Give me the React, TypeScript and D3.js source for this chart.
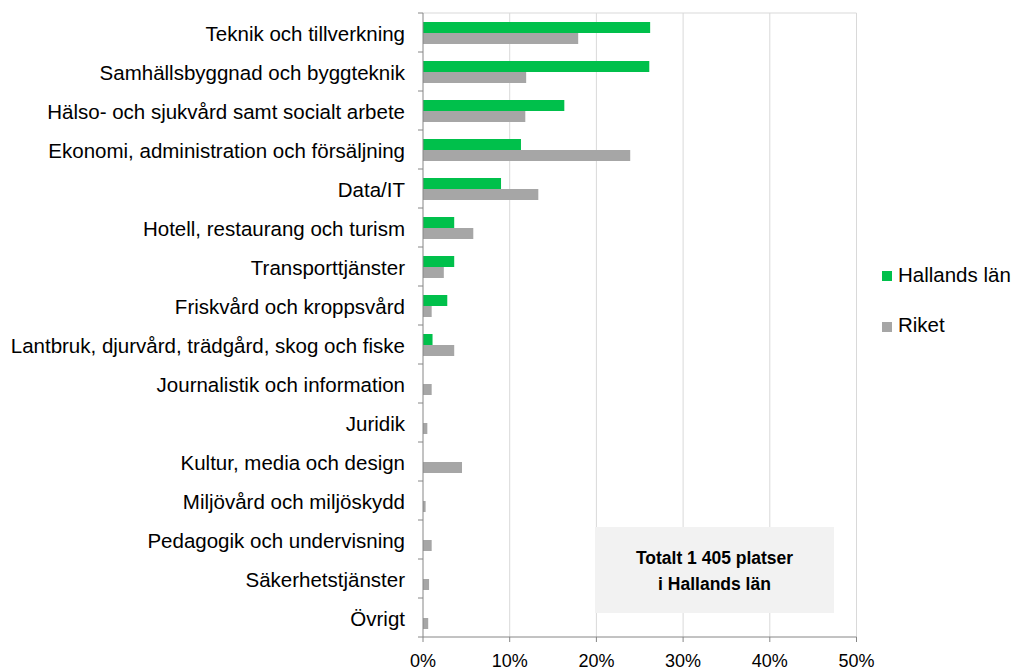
import React from "react";
import * as d3 from "d3";

const categories = [
  "Teknik och tillverkning",
  "Samhällsbyggnad och byggteknik",
  "Hälso- och sjukvård samt socialt arbete",
  "Ekonomi, administration och försäljning",
  "Data/IT",
  "Hotell, restaurang och turism",
  "Transporttjänster",
  "Friskvård och kroppsvård",
  "Lantbruk, djurvård, trädgård, skog och fiske",
  "Journalistik och information",
  "Juridik",
  "Kultur, media och design",
  "Miljövård och miljöskydd",
  "Pedagogik och undervisning",
  "Säkerhetstjänster",
  "Övrigt",
];
const hallands = [26.2, 26.1, 16.3, 11.3, 9.0, 3.6, 3.6, 2.8, 1.1, 0, 0, 0, 0, 0, 0, 0];
const riket = [17.9, 11.9, 11.8, 23.9, 13.3, 5.8, 2.4, 1.0, 3.6, 1.0, 0.5, 4.5, 0.3, 1.0, 0.7, 0.6];
const xTicks = [0, 10, 20, 30, 40, 50];
const seriesNames = ["Hallands län", "Riket"];
const boxLines = ["Totalt 1 405 platser", "i Hallands län"];

const GREEN = "#00c04b";
const GRAY = "#a6a6a6";
const FONT = "Liberation Sans, Arial, sans-serif";

export default function App() {
  const left = 423, right = 856.5, top = 13, bottom = 637;
  const x = d3.scaleLinear().domain([0, 50]).range([left, right]);
  const y = d3.scaleBand<string>().domain(categories).range([top, bottom]).paddingInner(0).paddingOuter(0);
  const bw = y.bandwidth();
  const barH = 11;
  const colors = [GREEN, GRAY];
  const series = [hallands, riket];

  return (
    <svg width={1012} height={671} style={{ position: "absolute", left: 0, top: 0 }} fontFamily={FONT}>
      <rect width={1012} height={671} fill="#fff" />
      <line x1={left} x2={right} y1={top} y2={top} stroke="#d9d9d9" strokeWidth={1} />
      {xTicks.slice(1).map((t) => (
        <line key={t} x1={x(t)} x2={x(t)} y1={top} y2={bottom} stroke="#d9d9d9" strokeWidth={1} />
      ))}
      <rect x={595} y={527} width={239} height={86} fill="#f2f2f2" />
      {boxLines.map((l, i) => (
        <text key={i} x={714.5} y={564 + i * 26} textAnchor="middle" fontSize={17.5} fontWeight="bold" fill="#000">
          {l}
        </text>
      ))}
      {categories.map((c, i) => {
        const cy = (y(c) as number) + bw / 2;
        return series.map((s, k) =>
          s[i] > 0 ? (
            <rect
              key={c + k}
              x={x(0)}
              y={cy - barH + k * barH + 0.5}
              width={x(s[i]) - x(0)}
              height={barH}
              fill={colors[k]}
            />
          ) : null
        );
      })}
      <line x1={left} x2={left} y1={top} y2={bottom} stroke="#868686" strokeWidth={1} />
      <line x1={left} x2={right} y1={bottom} y2={bottom} stroke="#868686" strokeWidth={1} />
      {categories.map((c, i) => (
        <line key={"t" + i} x1={left - 5} x2={left} y1={y(c) as number} y2={y(c) as number} stroke="#868686" />
      ))}
      <line x1={left - 5} x2={left} y1={bottom} y2={bottom} stroke="#868686" />
      {xTicks.map((t) => (
        <g key={"x" + t}>
          <line x1={x(t)} x2={x(t)} y1={bottom} y2={bottom + 5} stroke="#868686" />
          <text x={x(t)} y={bottom + 30} textAnchor="middle" fontSize={18} fill="#000">
            {t}%
          </text>
        </g>
      ))}
      {categories.map((c) => (
        <text key={"l" + c} x={405} y={(y(c) as number) + bw / 2 + 8} textAnchor="end" fontSize={20.5} fill="#000">
          {c}
        </text>
      ))}
      {seriesNames.map((n, i) => (
        <g key={n}>
          <rect x={882} y={271 + i * 51} width={10} height={10} fill={colors[i]} />
          <text x={898} y={282 + i * 50} fontSize={20.5} fill="#000">
            {n}
          </text>
        </g>
      ))}
    </svg>
  );
}
